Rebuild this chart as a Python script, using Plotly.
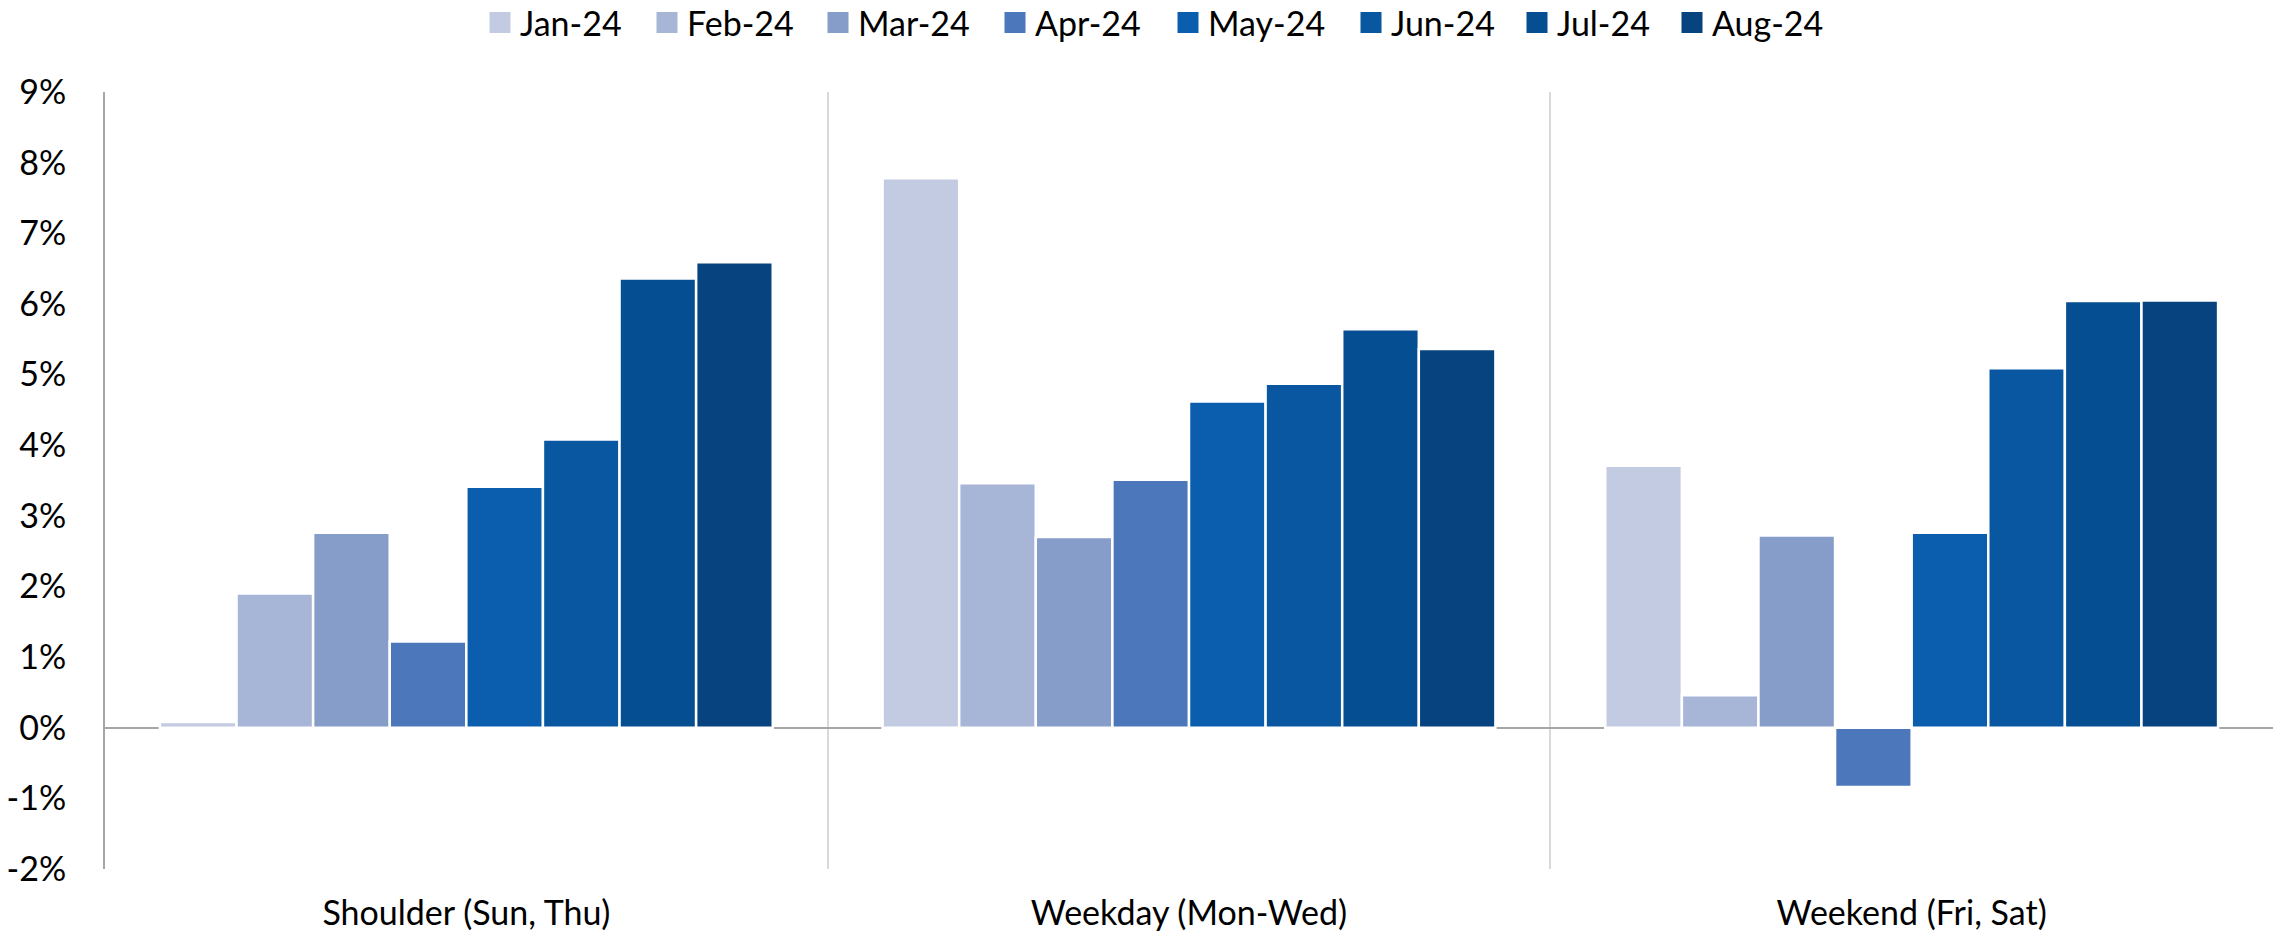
import plotly.graph_objects as go

categories = ["Shoulder (Sun, Thu)", "Weekday (Mon-Wed)", "Weekend (Fri, Sat)"]
months = ["Jan-24", "Feb-24", "Mar-24", "Apr-24", "May-24", "Jun-24", "Jul-24", "Aug-24"]

jan = [0.08, 7.78, 3.71]
feb = [1.90, 3.46, 0.46]
mar = [2.76, 2.70, 2.72]
apr = [1.22, 3.51, -0.84]
may = [3.41, 4.62, 2.76]
jun = [4.08, 4.87, 5.09]
jul = [6.36, 5.64, 6.04]
aug = [6.59, 5.36, 6.05]
series = [jan, feb, mar, apr, may, jun, jul, aug]

colors = ["#C3CBE3", "#A7B5D7", "#869CC9", "#4C77BA", "#0B5EAE", "#0857A0", "#054E91", "#06437F"]
legend_widths = [122, 126, 132, 128, 138, 121, 110, 125]

y_ticks = list(range(-2, 10))

FONT = "Lato"
FS = 34

fig = go.Figure()
for name, vals, col in zip(months, series, colors):
    fig.add_trace(go.Bar(
        x=categories, y=vals, name=name, showlegend=False,
        marker=dict(color=col, line=dict(color="white", width=2.5)),
    ))
# legend entries with larger square swatches
for name, col, lw in zip(months, colors, legend_widths):
    fig.add_trace(go.Scatter(
        x=[None], y=[None], name=name, mode="markers", legendwidth=lw,
        marker=dict(symbol="square", size=16, color=col, line=dict(color=col, width=5)),
        hoverinfo="skip",
    ))

fig.update_layout(
    width=2280, height=939,
    barmode="group", bargap=0.152, bargroupgap=0,
    plot_bgcolor="white", paper_bgcolor="white",
    margin=dict(l=105, r=7, t=92, b=67),
    font=dict(family=FONT, size=FS, color="#000000"),
    legend=dict(orientation="h", xref="container", x=480 / 2280, xanchor="left",
                yref="container", y=1 - 23 / 939, yanchor="middle",
                font=dict(family=FONT, size=FS), itemwidth=30,
                traceorder="normal", bgcolor="rgba(0,0,0,0)"),
    showlegend=True,
)
fig.update_xaxes(
    type="category", tickson="boundaries", showgrid=True, gridcolor="#D9D9D9", gridwidth=2,
    ticks="", showline=False, ticklabelstandoff=21,
    tickfont=dict(family=FONT, size=FS),
)
fig.update_yaxes(
    range=[-2, 9], tickvals=y_ticks, ticktext=[f"{v}%" for v in y_ticks],
    showgrid=False, zeroline=True, zerolinecolor="#A6A6A6", zerolinewidth=2,
    showline=True, linecolor="#A6A6A6", linewidth=2, ticks="",
    ticklabelstandoff=30, tickfont=dict(family=FONT, size=FS),
)

fig.write_html("out.html")
